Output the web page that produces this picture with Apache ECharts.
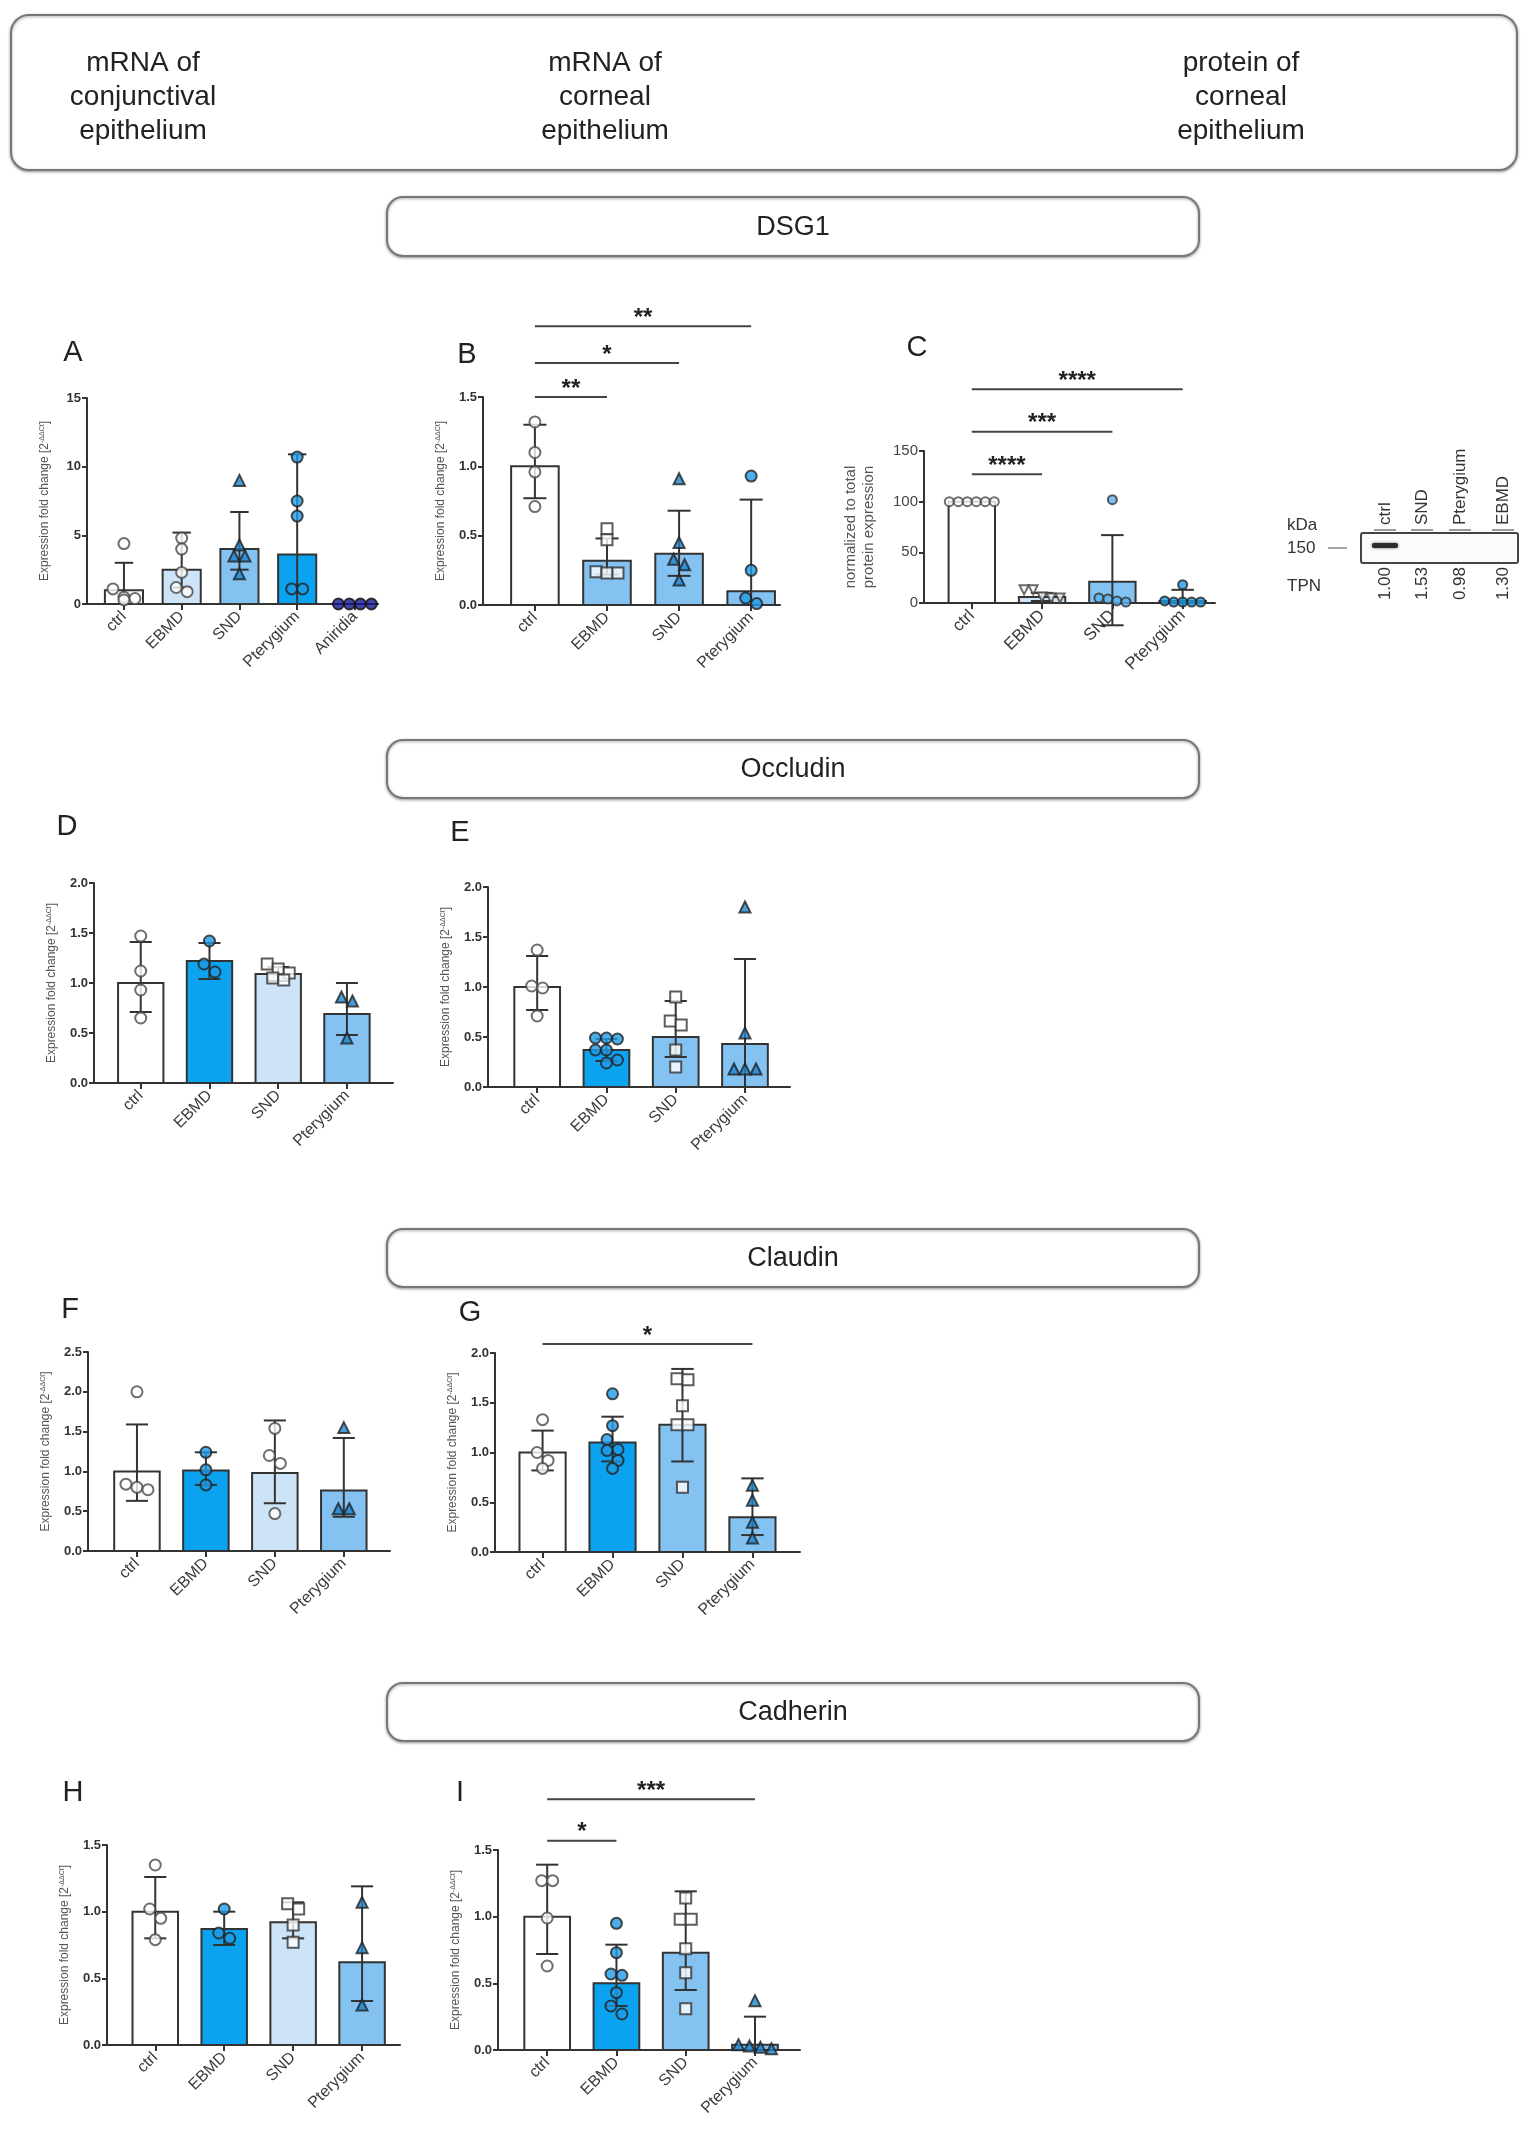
<!DOCTYPE html>
<html><head><meta charset="utf-8">
<script src="https://cdn.jsdelivr.net/npm/echarts/dist/echarts.min.js"></script>
<style>html,body{margin:0;padding:0;background:#fff}#c{width:1531px;height:2148px}</style>
</head><body><div id="c"></div>
<script>
// ================= DATA =================
const catsA = ['ctrl','EBMD','SND','Pterygium','Aniridia'];
const cats4 = ['ctrl','EBMD','SND','Pterygium'];

// A - DSG1 mRNA conjunctival
const meanA = [1.0, 2.5, 4.0, 3.6, 0];
const highA = [3.0, 5.2, 6.7, 10.9, null];
const lowA  = [null, 1.2, 2.5, null, null];
const ptsA  = [[4.4,1.1,0.5,0.4,0.3],[4.8,4.0,2.3,1.2,0.9],[9.0,4.3,3.5,3.5,2.2],[10.7,7.5,6.4,1.1,1.1],[0,0,0,0]];

// B - DSG1 mRNA corneal
const meanB = [1.0, 0.32, 0.37, 0.10];
const highB = [1.30, 0.48, 0.68, 0.76];
const lowB  = [0.77, 0.22, 0.21, null];
const ptsB  = [[1.32,1.10,0.96,0.71],[0.55,0.47,0.24,0.23,0.23],[0.91,0.45,0.33,0.29,0.18],[0.93,0.25,0.05,0.01]];
const sigPairsB = [[0,1],[0,2],[0,3]];
const sigLevelsB = [1.5, 1.745, 2.01];
const sigTextB = ['**','*','**'];

// C - DSG1 protein corneal
const meanC = [100, 6, 21, 2];
const highC = [null, 10, 67, 13];
const lowC  = [null, 2, -22, null];
const ptsC  = [[100,100,100,100,100,100],[13,13,6,5,5],[102,5,4,2,1],[18,2,1,1,1,1]];
const sigPairsC = [[0,1],[0,2],[0,3]];
const sigLevelsC = [127, 169, 211];
const sigTextC = ['****','***','****'];

// Blot
const blotLanes = ['ctrl','SND','Pterygium','EBMD'];
const blotTPN = ['1.00','1.53','0.98','1.30'];

// D - Occludin mRNA conjunctival
const meanD = [1.0, 1.22, 1.09, 0.69];
const highD = [1.41, 1.40, 1.16, 1.0];
const lowD  = [0.71, 1.04, 1.02, 0.48];
const ptsD  = [[1.47,1.12,0.93,0.65],[1.42,1.19,1.11],[1.19,1.14,1.10,1.05,1.03],[0.86,0.82,0.45]];

// E - Occludin mRNA corneal
const meanE = [1.0, 0.37, 0.50, 0.43];
const highE = [1.31, 0.48, 0.86, 1.28];
const lowE  = [0.77, 0.26, 0.30, null];
const ptsE  = [[1.37,1.01,0.99,0.71],[0.49,0.48,0.49,0.37,0.37,0.27,0.24],[0.90,0.66,0.62,0.37,0.20],[1.80,0.54,0.18,0.18,0.18]];

// F - Claudin mRNA conjunctival
const meanF = [1.0, 1.01, 0.98, 0.76];
const highF = [1.59, 1.24, 1.64, 1.42];
const lowF  = [0.63, 0.83, 0.60, 0.43];
const ptsF  = [[2.0,0.84,0.80,0.77],[1.24,1.02,0.83],[1.54,1.20,1.10,0.47],[1.55,0.53,0.53]];

// G - Claudin mRNA corneal
const meanG = [1.0, 1.10, 1.28, 0.35];
const highG = [1.22, 1.36, 1.84, 0.74];
const lowG  = [0.82, 0.91, 0.91, 0.17];
const ptsG  = [[1.33,1.0,0.92,0.84],[1.59,1.27,1.13,1.03,1.02,0.92,0.84],[1.74,1.73,1.47,1.28,1.28,0.65],[0.67,0.52,0.30,0.14]];
const sigPairsG = [[0,3]];
const sigLevelsG = [2.09];
const sigTextG = ['*'];

// H - Cadherin mRNA conjunctival
const meanH = [1.0, 0.87, 0.92, 0.62];
const highH = [1.26, 1.0, 1.07, 1.19];
const lowH  = [0.80, 0.75, 0.80, 0.33];
const ptsH  = [[1.35,1.02,0.95,0.79],[1.02,0.84,0.80],[1.06,1.02,0.90,0.77],[1.07,0.73,0.30]];

// I - Cadherin mRNA corneal
const meanI = [1.0, 0.50, 0.73, 0.04];
const highI = [1.39, 0.79, 1.19, 0.25];
const lowI  = [0.72, 0.33, 0.45, null];
const ptsI  = [[1.27,1.27,0.99,0.63],[0.95,0.73,0.57,0.56,0.43,0.33,0.27],[1.14,0.98,0.98,0.76,0.58,0.31],[0.37,0.04,0.03,0.02,0.01]];
const sigPairsI = [[0,1],[0,3]];
const sigLevelsI = [1.57, 1.88];
const sigTextI = ['*','***'];

// ================= STYLE / LAYOUT =================
const FONT = 'Liberation Sans, Arial, sans-serif';
const W = '#ffffff', PALE = '#cde4f8', LIGHT = '#84c2f2', BRIGHT = '#0ba3ef';
const circW = {symbol:'circle', color:'#ffffff', border:'#4a4a4a'};
const circB = {symbol:'circle', color:'#1f9ae6', border:'#222'};
const circL = {symbol:'circle', color:'#5cb2ee', border:'#333'};
const circN = {symbol:'circle', color:'#17178f', border:'#111'};
const triB  = {symbol:'triangle', color:'#1b84cf', border:'#222'};
const sqW   = {symbol:'rect', color:'#ffffff', border:'#333'};
const triDW = {symbol:'triangle', rotate:180, color:'#ffffff', border:'#444'};

const BW = 0.66, CAPW = 0.32;
const YNAME = '{a|Expression fold change [2}{s|-ΔΔCt}{a|]}';

const panels = [
 {cats:catsA, mean:meanA, high:highA, low:lowA, pts:ptsA, fills:[W,PALE,LIGHT,BRIGHT,BRIGHT], marks:[circW,circW,triB,circB,circN],
  L:{l:87,t:398,r:378,b:604,xmin:-0.64,xmax:4.40,ymax:15,yint:5,dec:0}},
 {cats:cats4, mean:meanB, high:highB, low:lowB, pts:ptsB, fills:[W,LIGHT,LIGHT,LIGHT], marks:[circW,sqW,triB,circB],
  sig:[sigPairsB,sigLevelsB,sigTextB], L:{l:483,t:397,r:780,b:605,xmin:-0.72,xmax:3.40,ymax:1.5,yint:0.5,dec:1}},
 {cats:cats4, mean:meanC, high:highC, low:lowC, pts:ptsC, fills:[W,PALE,LIGHT,LIGHT], marks:[circW,triDW,circL,circB],
  sig:[sigPairsC,sigLevelsC,sigTextC], protein:true, L:{l:924,t:451,r:1215,b:603,xmin:-0.68,xmax:3.46,ymax:150,yint:50,dec:0}},
 {cats:cats4, mean:meanD, high:highD, low:lowD, pts:ptsD, fills:[W,BRIGHT,PALE,LIGHT], marks:[circW,circB,sqW,triB],
  L:{l:94,t:883,r:393,b:1083,xmin:-0.68,xmax:3.67,ymax:2,yint:0.5,dec:1}},
 {cats:cats4, mean:meanE, high:highE, low:lowE, pts:ptsE, fills:[W,BRIGHT,LIGHT,LIGHT], marks:[circW,circB,sqW,triB],
  L:{l:488,t:887,r:790,b:1087,xmin:-0.71,xmax:3.65,ymax:2,yint:0.5,dec:1}},
 {cats:cats4, mean:meanF, high:highF, low:lowF, pts:ptsF, fills:[W,BRIGHT,PALE,LIGHT], marks:[circW,circB,circW,triB],
  L:{l:88,t:1352,r:390,b:1551,xmin:-0.71,xmax:3.67,ymax:2.5,yint:0.5,dec:1}},
 {cats:cats4, mean:meanG, high:highG, low:lowG, pts:ptsG, fills:[W,BRIGHT,LIGHT,LIGHT], marks:[circW,circB,sqW,triB],
  sig:[sigPairsG,sigLevelsG,sigTextG], L:{l:495,t:1353,r:800,b:1552,xmin:-0.68,xmax:3.68,ymax:2,yint:0.5,dec:1}},
 {cats:cats4, mean:meanH, high:highH, low:lowH, pts:ptsH, fills:[W,BRIGHT,PALE,LIGHT], marks:[circW,circB,sqW,triB],
  L:{l:107,t:1845,r:400,b:2045,xmin:-0.70,xmax:3.55,ymax:1.5,yint:0.5,dec:1}},
 {cats:cats4, mean:meanI, high:highI, low:lowI, pts:ptsI, fills:[W,BRIGHT,LIGHT,LIGHT], marks:[circW,circB,sqW,triB],
  sig:[sigPairsI,sigLevelsI,sigTextI], L:{l:498,t:1850,r:800,b:2050,xmin:-0.71,xmax:3.65,ymax:1.5,yint:0.5,dec:1}}
];

function swarm(values, pxPerY, pxPerX, D) {
  const idx = values.map((v,i)=>i).sort((a,b)=>values[b]-values[a]);
  const offs = new Array(values.length).fill(0);
  let row = [], top = null;
  const flush = () => { const n=row.length; row.forEach((k,j)=>{ offs[k]=(j-(n-1)/2)*D/pxPerX; }); row=[]; };
  idx.forEach(k => {
    if (row.length && (values[top]-values[k])*pxPerY > D*0.95) flush();
    if (!row.length) top = k;
    row.push(k);
  });
  flush();
  return offs;
}

const grid=[], xAxis=[], yAxis=[], series=[];
panels.forEach((P, gi) => {
  const L = P.L, Wd = L.r-L.l, Ht = L.b-L.t;
  const pxX = Wd/(L.xmax-L.xmin), pxY = Ht/L.ymax;
  const ticks = P.cats.map((c,i)=>i);
  grid.push({left:L.l, top:L.t, width:Wd, height:Ht, containLabel:false});
  xAxis.push({type:'value', gridIndex:gi, min:L.xmin, max:L.xmax, splitLine:{show:false},
    axisLine:{show:true, onZero:false, lineStyle:{color:'#333', width:2}},
    axisTick:{show:true, customValues:ticks, length:6, lineStyle:{color:'#333', width:2}},
    axisLabel:{show:true, customValues:ticks, formatter:v=>P.cats[Math.round(v)]||'', rotate:45,
      fontSize:P.protein?17:16, color:'#3a3a3a', margin:10, fontFamily:FONT}});
  yAxis.push({type:'value', gridIndex:gi, min:0, max:L.ymax, interval:L.yint, splitLine:{show:false},
    axisLine:{show:true, onZero:false, lineStyle:{color:'#333', width:2}},
    axisTick:{show:true, length:5, lineStyle:{color:'#333', width:2}},
    axisLabel:{formatter:v=>v.toFixed(L.dec), fontSize:P.protein?15:13, fontWeight:P.protein?'normal':'bold',
      color:P.protein?'#444':'#333', margin:6, fontFamily:FONT},
    name: P.protein ? 'normalized to total\nprotein expression' : YNAME,
    nameLocation:'middle', nameGap: P.protein?46:36,
    nameTextStyle: P.protein ? {fontSize:15, color:'#555', lineHeight:18, fontFamily:FONT}
      : {fontFamily:FONT, rich:{a:{fontSize:12, color:'#555', fontFamily:FONT}, s:{fontSize:7, color:'#555', verticalAlign:'top', fontFamily:FONT}}}});
  // bars
  series.push({type:'custom', xAxisIndex:gi, yAxisIndex:gi, clip:false, z:2, encode:{x:0,y:1},
    data:P.mean.map((m,i)=>[i,m]),
    renderItem:(params, api)=>{
      const i=api.value(0), m=api.value(1);
      if (!(m>0)) return null;
      const p0=api.coord([i-BW/2,m]), p1=api.coord([i+BW/2,0]);
      return {type:'rect', shape:{x:p0[0], y:p0[1], width:p1[0]-p0[0], height:p1[1]-p0[1]},
        style:{fill:P.fills[params.dataIndex], stroke:'#333', lineWidth:2}};
    }});
  // error bars
  const errData = [];
  P.high.forEach((h,i)=>{ if (h!=null) errData.push([i, h, P.low[i]==null?0:P.low[i], P.low[i]==null?0:1]); });
  series.push({type:'custom', xAxisIndex:gi, yAxisIndex:gi, clip:false, z:3, encode:{x:0,y:[1,2]},
    data:errData,
    renderItem:(params, api)=>{
      const i=api.value(0), h=api.value(1), l=api.value(2), has=api.value(3);
      const ph=api.coord([i,h]), pl=api.coord([i,l]);
      const cw=api.size([CAPW,0])[0]/2;
      const st={stroke:'#333', lineWidth:2};
      const ch=[{type:'line', shape:{x1:ph[0],y1:ph[1],x2:pl[0],y2:pl[1]}, style:st},
                {type:'line', shape:{x1:ph[0]-cw,y1:ph[1],x2:ph[0]+cw,y2:ph[1]}, style:st}];
      if (has) ch.push({type:'line', shape:{x1:pl[0]-cw,y1:pl[1],x2:pl[0]+cw,y2:pl[1]}, style:st});
      return {type:'group', children:ch};
    }});
  // points
  const size = P.protein ? 9 : 11;
  const pdata = [];
  P.pts.forEach((arr,g)=>{
    const offs = swarm(arr, pxY, pxX, size);
    const mk = P.marks[g];
    arr.forEach((v,k)=>pdata.push({value:[g+offs[k], v], symbol:mk.symbol, symbolRotate:mk.rotate||0,
      itemStyle:{color:mk.color, borderColor:mk.border, borderWidth:2}}));
  });
  series.push({type:'scatter', xAxisIndex:gi, yAxisIndex:gi, clip:false, z:4, symbolSize:size, data:pdata});
  // significance
  if (P.sig) {
    const [pairs, levels, texts] = P.sig;
    series.push({type:'custom', xAxisIndex:gi, yAxisIndex:gi, clip:false, z:5, encode:{x:[0,1],y:2},
      data:pairs.map((p,k)=>[p[0],p[1],levels[k],k]),
      renderItem:(params, api)=>{
        const a=api.coord([api.value(0),api.value(2)]), b=api.coord([api.value(1),api.value(2)]);
        const t=texts[api.value(3)];
        return {type:'group', children:[
          {type:'line', shape:{x1:a[0],y1:a[1],x2:b[0],y2:b[1]}, style:{stroke:'#444', lineWidth:2}},
          {type:'text', x:(a[0]+b[0])/2, y:a[1]-8, style:{text:t, fill:'#222', font:'bold 24px '+FONT,
            align:'center', verticalAlign:'middle', textAlign:'center', textVerticalAlign:'middle'}}
        ]};
      }});
  }
});

// ================= GRAPHICS (boxes, letters, blot) =================
const txt = (x,y,text,size,opts={}) => Object.assign({type:'text', x:x, y:y, z:10,
  style:{text:text, fill:opts.fill||'#222', font:(opts.weight||'normal')+' '+size+'px '+FONT,
    align:opts.align||'center', verticalAlign:opts.valign||'middle',
    textAlign:opts.align||'center', textVerticalAlign:opts.valign||'middle', lineHeight:opts.lh}}, opts.el||{});
const box = (x,y,w,h,r) => ({type:'rect', z:1, shape:{x:x,y:y,width:w,height:h,r:r},
  style:{fill:'#fff', stroke:'#777', lineWidth:2, shadowBlur:3, shadowColor:'rgba(0,0,0,0.35)', shadowOffsetY:1}});

const graphic = [
  box(11,15,1506,155,18),
  txt(143,97,'mRNA of\nconjunctival\nepithelium',28,{lh:34}),
  txt(605,97,'mRNA of\ncorneal\nepithelium',28,{lh:34}),
  txt(1241,97,'protein of\ncorneal\nepithelium',28,{lh:34}),
  box(387,197,812,59,16), txt(793,228,'DSG1',27),
  box(387,740,812,58,16), txt(793,770,'Occludin',27),
  box(387,1229,812,58,16), txt(793,1259,'Claudin',27),
  box(387,1683,812,58,16), txt(793,1713,'Cadherin',27),
  txt(73,353,'A',29), txt(467,355,'B',29), txt(917,348,'C',29),
  txt(67,827,'D',29), txt(460,833,'E',29),
  txt(70,1310,'F',29), txt(470,1313,'G',29),
  txt(73,1793,'H',29), txt(460,1793,'I',29),
  // blot
  txt(1287,525,'kDa',17,{align:'left', fill:'#333'}),
  txt(1287,548,'150',17,{align:'left', fill:'#333'}),
  {type:'line', z:10, shape:{x1:1328,y1:548,x2:1347,y2:548}, style:{stroke:'#888', lineWidth:1.5}},
  {type:'rect', z:10, shape:{x:1361,y:533,width:157,height:30,r:2}, style:{fill:'#fbfbfb', stroke:'#444', lineWidth:2}},
  {type:'rect', z:11, shape:{x:1372,y:543,width:26,height:5,r:2}, style:{fill:'#2a2a2a', shadowBlur:3, shadowColor:'rgba(0,0,0,0.6)'}},
  txt(1287,586,'TPN',17,{align:'left', fill:'#333'})
];
const laneX = [1385, 1422, 1460, 1503];
blotLanes.forEach((name,k)=>{
  graphic.push({type:'line', z:10, shape:{x1:laneX[k]-11,y1:530,x2:laneX[k]+11,y2:530}, style:{stroke:'#999', lineWidth:2}});
  graphic.push(txt(0,0,name,17,{align:'left', fill:'#333', el:{x:laneX[k], y:525, rotation:Math.PI/2}}));
  graphic.push(txt(0,0,blotTPN[k],17,{align:'right', fill:'#333', el:{x:laneX[k], y:567, rotation:Math.PI/2}}));
});

const chart = echarts.init(document.getElementById('c'), null, {renderer:'canvas'});
chart.setOption({backgroundColor:'#fff', animation:false, textStyle:{fontFamily:FONT},
  grid, xAxis, yAxis, series, graphic});
</script></body></html>
